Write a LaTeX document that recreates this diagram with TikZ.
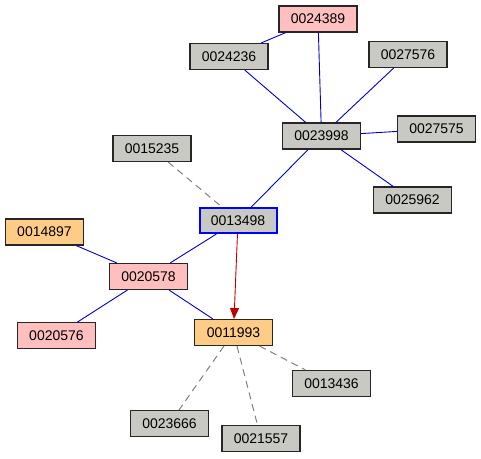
\documentclass[tikz,border=0pt]{standalone}
\usepackage{fontspec}
\setmainfont{Liberation Sans}
\usetikzlibrary{arrows.meta}
\definecolor{gfill}{HTML}{C8C9C3}
\definecolor{pfill}{HTML}{FFBFBF}
\definecolor{ofill}{HTML}{FFCC88}
\definecolor{eblue}{HTML}{0000CC}
\definecolor{ered}{HTML}{C00000}
\begin{document}
\begin{tikzpicture}[x=1pt,y=-1pt,
  box/.style={draw=black!85,line width=1.1pt,minimum width=78pt,minimum height=26pt,inner sep=0pt,font=\fontsize{14}{16}\selectfont},
  gbox/.style={box,fill=gfill},
  pbox/.style={box,fill=pfill},
  obox/.style={box,fill=ofill},
  cbox/.style={box,fill=gfill,draw=blue,line width=2pt,minimum width=77pt,minimum height=25pt},
  bl/.style={draw=eblue,line width=0.9pt},
  dsh/.style={draw=gray,line width=1pt,dash pattern=on 7pt off 5pt},
  rarr/.style={draw=ered,line width=0.9pt,-{Triangle[length=11pt,width=9pt]}}]
\useasboundingbox (0,0) rectangle (481,458);
\node[pbox] (n24389) at (318,19) {0024389};
\node[gbox] (n24236) at (229,56.5) {0024236};
\node[gbox] (n27576) at (408,54.5) {0027576};
\node[gbox] (n23998) at (321.5,136) {0023998};
\node[gbox] (n27575) at (436.5,129) {0027575};
\node[gbox] (n25962) at (412.5,200) {0025962};
\node[gbox] (n15235) at (152,148.5) {0015235};
\node[cbox] (n13498) at (238,220.5) {0013498};
\node[obox] (n14897) at (44.5,232) {0014897};
\node[pbox] (n20578) at (148.5,276.5) {0020578};
\node[pbox] (n20576) at (56.5,335.5) {0020576};
\node[obox] (n11993) at (233.5,332.5) {0011993};
\node[gbox] (n13436) at (331.5,383.5) {0013436};
\node[gbox] (n23666) at (169.5,423.5) {0023666};
\node[gbox] (n21557) at (261,438.5) {0021557};
\draw[bl] (n24389) -- (n24236);
\draw[bl] (n24389) -- (n23998);
\draw[bl] (n24236) -- (n23998);
\draw[bl] (n27576) -- (n23998);
\draw[bl] (n27575) -- (n23998);
\draw[bl] (n25962) -- (n23998);
\draw[bl] (n23998) -- (n13498);
\draw[dsh] (n15235) -- (n13498);
\draw[bl] (n13498) -- (n20578);
\draw[rarr] (n13498) -- (n11993);
\draw[bl] (n14897) -- (n20578);
\draw[bl] (n20578) -- (n20576);
\draw[bl] (n20578) -- (n11993);
\draw[dsh] (n11993) -- (n13436);
\draw[dsh] (n11993) -- (n23666);
\draw[dsh] (n11993) -- (n21557);
\end{tikzpicture}
\end{document}
